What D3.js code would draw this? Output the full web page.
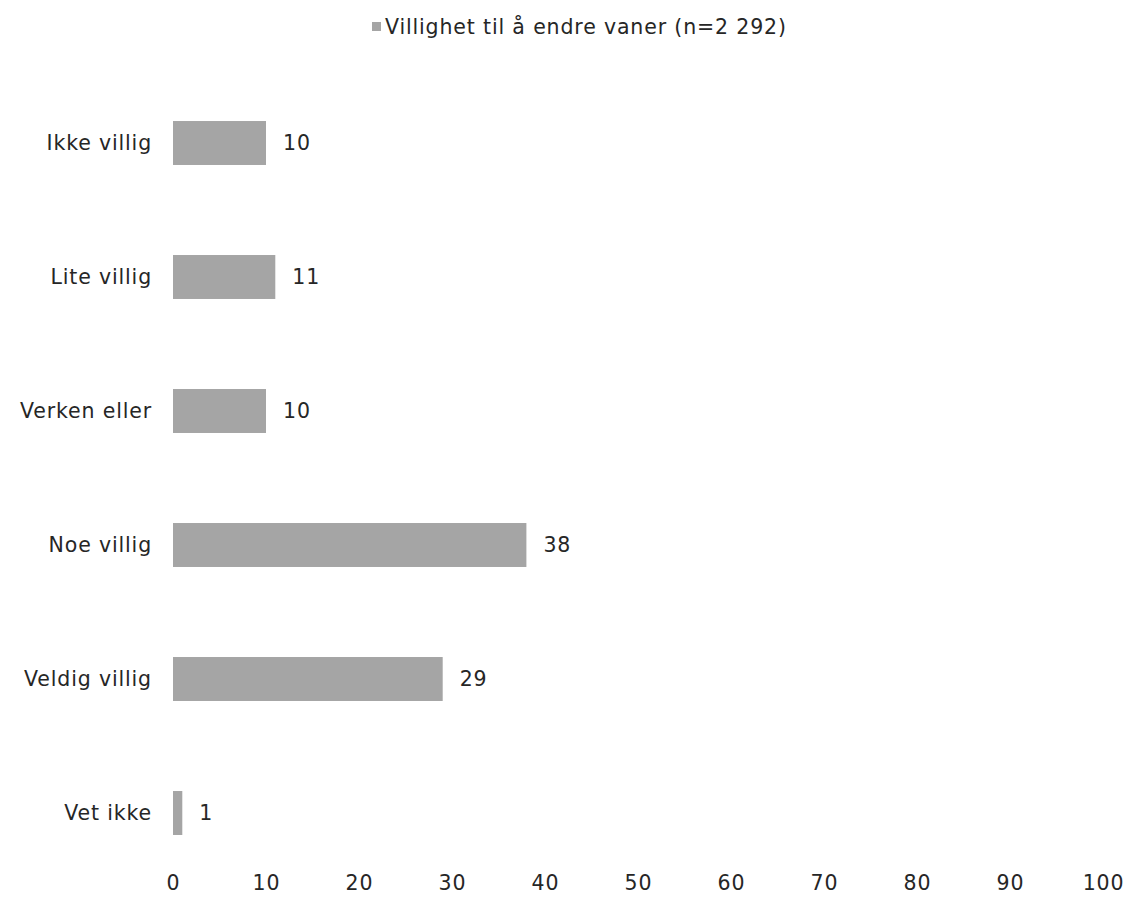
<!DOCTYPE html>
<html><head><meta charset="utf-8">
<script src="https://cdn.jsdelivr.net/npm/d3@7"></script>
<style>body{margin:0;background:#fff;} text{font-family:"DejaVu Sans",sans-serif;fill:#262626;letter-spacing:0.85px;}</style>
</head><body>
<svg id="c" width="1130" height="923"></svg>
<script>
const categories = ["Ikke villig","Lite villig","Verken eller","Noe villig","Veldig villig","Vet ikke"];
const values = [10,11,10,38,29,1];
const tickValues = [0,10,20,30,40,50,60,70,80,90,100];
const seriesName = "Villighet til å endre vaner (n=2 292)";

const svg = d3.select("#c");
const fs = 20.5;
const x = d3.scaleLinear().domain([0,100]).range([173,1103]);
const y = d3.scaleBand().domain(categories).range([76,880]).paddingInner(0.672).paddingOuter(0.336);

svg.selectAll("rect.bar").data(values).join("rect").attr("class","bar")
  .attr("x", x(0)).attr("y",(d,i)=>y(categories[i]))
  .attr("width", d=>x(d)-x(0)).attr("height", y.bandwidth()).attr("fill","#A5A5A5");

svg.selectAll("text.val").data(values).join("text").attr("class","val")
  .attr("x", d=>x(d)+17).attr("y",(d,i)=>y(categories[i])+y.bandwidth()/2)
  .attr("dy","0.35em").attr("font-size",fs).text(d=>d);

const yAxis = d3.axisLeft(y).tickSize(0).tickPadding(21);
const gy = svg.append("g").attr("transform",`translate(${x(0)},0)`).call(yAxis);
gy.select(".domain").remove();
gy.selectAll("text").attr("font-size",fs).attr("font-family",null);

const xAxis = d3.axisBottom(x).tickValues(tickValues).tickSize(0).tickPadding(0);
const gx = svg.append("g").attr("transform","translate(0,875)").call(xAxis);
gx.select(".domain").remove();
gx.selectAll("text").attr("font-size",fs).attr("font-family",null).attr("dy","0.71em");

const lg = svg.append("g");
lg.append("rect").attr("x",372).attr("y",22).attr("width",9).attr("height",9).attr("fill","#A5A5A5");
lg.append("text").attr("x",385).attr("y",27).attr("dy","0.35em").attr("font-size",fs).text(seriesName);
</script>
</body></html>
